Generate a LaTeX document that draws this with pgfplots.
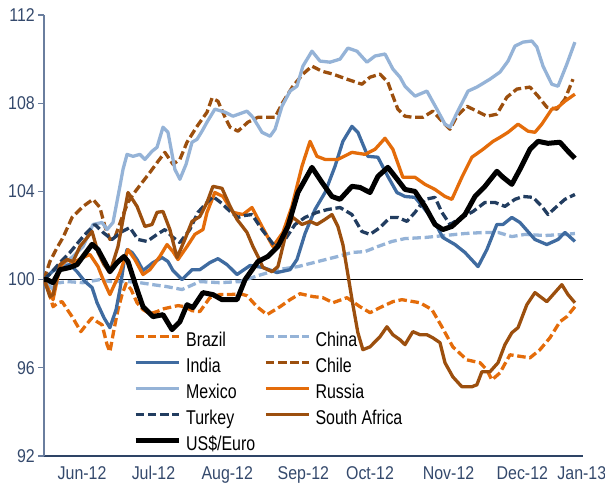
\documentclass[border=0pt]{standalone}
\usepackage{graphicx}
\usepackage{fontspec}
\setmainfont{Liberation Sans}
\usepackage{pgfplots}
\pgfplotsset{compat=1.18}

\definecolor{labcol}{HTML}{34496C}
\definecolor{yaxcol}{HTML}{6A7E9E}
\definecolor{xaxcol}{HTML}{2E4466}
\definecolor{cOrange}{HTML}{E46C0A}
\definecolor{cBlue}{HTML}{3F6BA0}
\definecolor{cLight}{HTML}{95B3D7}
\definecolor{cNavy}{HTML}{223D60}
\definecolor{cBrown}{HTML}{9C4F0E}

% slightly tall lettering for ticks and legend
\newcommand{\tall}[1]{\scalebox{1}[1.16]{#1}}
\newcommand{\tallL}[1]{\scalebox{1}[1.25]{#1}}

\begin{document}
\begin{tikzpicture}
\useasboundingbox (-44bp,-33bp) rectangle (561bp,456bp);
\begin{axis}[
  scale only axis, width=539bp, height=441bp,
  xmin=0, xmax=226.5, ymin=92, ymax=112,
  axis x line*=bottom, axis y line*=left,
  x axis line style={color=xaxcol, line width=1.1pt},
  y axis line style={color=yaxcol, line width=1.1pt},
  tick align=outside,
  ytick={92,96,100,104,108,112},
  yticklabels={\tall{92},\tall{96},\tall{100},\tall{104},\tall{108},\tall{112}},
  ytick style={color=yaxcol, line width=1.1pt},
  major tick length=6bp,
  xtick={16,46,77,109,137,170,201,226},
  xticklabels={\tall{Jun-12},\tall{Jul-12},\tall{Aug-12},\tall{Sep-12},\tall{Oct-12},\tall{Nov-12},\tall{Dec-12},\tall{Jan-13}},
  xtick style={draw=none},
  tick label style={font=\fontsize{16}{18}\selectfont, color=labcol, inner sep=0pt},
  yticklabel style={xshift=-3bp},
  xticklabel style={yshift=-4bp},
  every axis plot/.append style={line join=round},
  legend columns=2,
  legend cell align=left,
  legend image code/.code={\draw[#1] (0bp,5bp) -- (43bp,5bp);},
  legend style={
    draw=none, fill=none, inner sep=0pt,
    at={(0.165,0.279)}, anchor=north west,
    font=\fontsize{16}{18}\selectfont,
    nodes={inner sep=0pt, text height=13bp, text depth=4bp},
    row sep=9bp,
    /tikz/every odd column/.append style={column sep=5bp},
    /tikz/every even column/.append style={column sep=9bp},
  },
]

% reference level
\addplot[black, line width=1.3pt, forget plot] coordinates {(0,100) (226.5,100)};

% Brazil
\addplot[cOrange, line width=3.3bp, dash pattern=on 8.5bp off 3.7bp] coordinates {
(0,100) (1.7,99.55) (3.8,98.77) (5.9,98.95) (7.6,99.0) (10.1,98.59) (11.8,98.32)
(15.5,97.64) (18.1,98.0) (20.2,98.27) (22.3,98.09) (24.4,97.95) (26.5,97.05)
(27.7,96.73) (29.4,97.73) (31.1,98.64) (32.8,99.32) (34.5,99.82) (36.6,99.55)
(39.1,98.95) (41.6,98.64) (44.5,98.45) (47.5,98.55) (50.4,98.68) (56.3,98.82)
(59.2,98.77) (62.2,98.59) (65.5,98.55) (69.7,99.18) (73.9,99.32) (78.2,99.32)
(82.4,99.36) (85.3,99.27) (89.5,98.77) (93.7,98.41) (99.2,98.77) (103.4,99.09)
(107.6,99.36) (113.0,99.23) (117.2,99.18) (121.4,98.95) (127.3,99.18) (132.8,98.77)
(137.0,98.5) (141.2,98.73) (146.6,99.0) (150.4,99.09) (158.0,98.95) (163.0,98.64)
(167.2,97.86) (171.8,96.95) (177.7,96.36) (183.2,96.23) (186.1,95.91) (188.2,95.45)
(191.6,95.77) (195.8,96.59) (201.3,96.5) (204.2,96.45) (208.4,96.82) (212.6,97.36)
(216.8,98.09) (219.7,98.32) (223.1,98.77)};
\addlegendentry{\tallL{Brazil}}

% China
\addplot[cLight, line width=3.3bp, dash pattern=on 8.5bp off 3.7bp] coordinates {
(0,100) (2.5,99.86) (6.7,99.86) (9.7,99.91) (16.4,99.86) (23.5,100) (27.7,99.91)
(34.9,99.91) (40.3,99.86) (45.8,99.77) (51.7,99.68) (58.0,99.55) (62.6,99.77)
(65.5,99.91) (73.9,99.86) (82.4,99.91) (89.9,100.18) (98.3,100.45) (106.7,100.59)
(115.1,100.82) (123.5,101.05) (129.4,101.23) (134.9,101.27) (140.3,101.5)
(146.2,101.73) (151.7,101.86) (160.1,101.91) (168.5,102.0) (176.9,102.09)
(185.3,102.14) (190.8,102.14) (196.6,101.95) (202.1,102.05) (210.5,102.0)
(218.9,102.05) (223.1,102.09)};
\addlegendentry{\tallL{China}}

% India
\addplot[cBlue, line width=3.3bp] coordinates {
(0,100) (3.4,100.36) (6.7,100.59) (10.9,100.68) (13.9,100.36) (17.2,99.91)
(20.2,99.64) (22.3,98.95) (25.2,98.27) (27.7,97.82) (30.3,98.64) (31.9,99.55)
(33.6,100.77) (34.9,101.36) (37.0,101.23) (39.1,100.91) (41.6,100.41) (43.7,100.59)
(45.8,100.77) (49.6,101.0) (52.1,100.82) (54.2,100.41) (58.0,100.0) (62.2,100.45)
(65.5,100.45) (69.7,100.77) (73.1,100.95) (76.9,100.68) (81.1,100.23) (86.6,100.64)
(92.0,100.55) (97.9,100.32) (103.4,100.45) (106.3,100.91) (109.7,102.09)
(113.9,103.18) (118.1,103.95) (122.3,105.14) (125.6,106.27) (129.4,106.95)
(131.9,106.68) (136.1,105.59) (140.3,105.55) (144.5,104.68) (148.3,103.95)
(151.7,103.77) (155.9,103.73) (160.1,103.18) (164.3,102.59) (167.6,101.91)
(172.7,101.59) (176.9,101.23) (182.4,100.59) (186.1,101.36) (190.3,102.5)
(192.9,102.5) (196.6,102.82) (200.0,102.59) (206.3,101.82) (211.3,101.59)
(216.0,101.82) (218.9,102.14) (223.1,101.73)};
\addlegendentry{\tallL{India}}

% Chile
\addplot[cBrown, line width=3.3bp, dash pattern=on 8.5bp off 3.7bp] coordinates {
(0,100) (2.5,100.82) (5.5,101.45) (8.0,101.91) (11.8,102.82) (16.4,103.32)
(20.6,103.64) (23.5,103.27) (25.6,102.41) (27.7,101.82) (29.8,101.91) (32.8,102.82)
(35.3,103.5) (37.4,103.86) (40.3,104.27) (44.5,104.86) (47.9,105.36) (50.8,105.77)
(54.2,105.23) (57.1,105.45) (60.1,106.23) (64.3,106.95) (68.5,107.59) (70.6,108.23)
(73.1,108.09) (76.1,107.36) (78.2,106.91) (81.5,106.73) (85.7,107.14) (89.9,107.36)
(97.1,107.36) (100.4,108.05) (104.6,108.77) (108.8,109.32) (112.6,109.68)
(116.8,109.45) (121.4,109.32) (127.3,109.09) (133.6,108.86) (137.0,109.18)
(141.2,109.32) (144.5,108.95) (146.6,108.32) (148.7,107.73) (151.7,107.41)
(155.0,107.36) (159.2,107.36) (163.4,107.64) (167.6,107.14) (170.6,106.82)
(173.5,107.41) (177.7,107.86) (181.9,107.64) (186.1,107.41) (190.3,107.5)
(194.5,108.27) (198.7,108.64) (204.2,108.73) (207.6,108.32) (211.3,107.82)
(215.5,107.73) (218.9,108.18) (222.3,109.09)};
\addlegendentry{\tallL{Chile}}

% Mexico
\addplot[cLight, line width=3.3bp] coordinates {
(0,100) (3.8,99.55) (6.7,100.59) (12.2,101.05) (16.4,101.5) (20.6,102.5)
(24.4,102.59) (26.5,102.27) (29.0,102.59) (31.9,104.23) (33.2,105) (34.9,105.68)
(37.4,105.59) (40.3,105.68) (42.4,105.45) (45.4,105.82) (47.5,106.0) (50.0,106.91)
(52.1,106.68) (55.0,105.0) (57.1,104.55) (59.7,105.23) (62.2,106.23) (64.3,106.36)
(66.4,106.73) (68.5,107.14) (71.8,107.73) (76.1,107.59) (79.4,107.41) (85.3,107.64)
(87.8,107.36) (91.6,106.68) (95.0,106.5) (97.1,106.82) (100,107.86) (103.4,108.55)
(106.3,108.77) (108.8,109.68) (112.6,110.36) (116.0,109.91) (120.2,109.86)
(124.4,110) (127.7,110.5) (131.5,110.36) (135.7,109.86) (139.1,110.14)
(143.3,110.23) (146.6,109.55) (149.6,109.18) (151.7,108.77) (155.9,108.32)
(160.9,108.55) (165.1,107.73) (168.5,107.05) (170.6,106.91) (173.9,107.64)
(178.2,108.55) (181.9,108.73) (187.4,109.09) (191.6,109.41) (195.0,109.91)
(197.9,110.59) (201.3,110.77) (205.0,110.82) (207.1,110.55) (209.7,109.68)
(213.4,108.86) (216.0,108.77) (219.7,109.77) (223.1,110.77)};
\addlegendentry{\tallL{Mexico}}

% Russia
\addplot[cOrange, line width=3.3bp] coordinates {
(0,100) (3.8,99.09) (6.7,100.59) (9.7,100.91) (12.2,100.77) (16.4,101.0)
(19.3,101.14) (22.7,100.59) (25.2,99.91) (27.7,99.32) (31.9,100.32) (35.3,101.36)
(38.2,100.91) (41.6,100.23) (44.5,100.45) (48.7,101.05) (51.7,101.59) (54.2,101.27)
(56.3,100.91) (60.1,101.5) (63.4,102.05) (66.8,102.27) (68.5,103.05) (71.8,103.95)
(75.2,103.77) (79.4,103.05) (83.6,102.95) (87.4,103.27) (91.6,102.41) (96.2,101.5)
(100.4,102.14) (104.2,103.32) (108.4,105.14) (111.8,106.27) (114.7,105.59)
(118.1,105.45) (123.5,105.45) (129.4,105.77) (134.9,105.68) (139.1,105.91)
(143.3,106.41) (146.6,105.91) (150.8,104.64) (155.9,104.64) (160.1,104.32)
(164.3,104.09) (168.5,103.77) (171.4,103.64) (175.6,104.64) (179.8,105.55)
(184.5,105.91) (188.7,106.27) (191.6,106.45) (195.0,106.68) (199.2,107.05)
(203.4,106.73) (206.3,106.68) (209.2,107.05) (213.4,107.73) (216.0,107.82)
(218.9,108.09) (223.1,108.41)};
\addlegendentry{\tallL{Russia}}

% Turkey
\addplot[cNavy, line width=3.3bp, dash pattern=on 8.5bp off 3.7bp] coordinates {
(0,100) (3.4,100.36) (6.7,100.77) (10.9,101.23) (16.4,101.95) (21.4,102.5)
(24.8,102.14) (28.6,101.82) (32.8,102.18) (36.1,102.36) (39.5,101.82) (43.3,101.73)
(47.5,102.05) (50.8,102.27) (53.8,101.95) (57.1,101.68) (61.3,102.27) (64.7,103.05)
(68.5,103.5) (71.0,103.77) (74.8,103.45) (78.2,103.09) (81.5,102.82) (84.5,102.91)
(87.4,102.95) (91.6,102.27) (97.1,101.5) (101.3,101.82) (105.5,102.5) (109.7,102.82)
(114.7,103.05) (119.3,103.18) (124.4,103.27) (129.4,102.95) (133.6,102.18)
(137.0,102.05) (141.2,102.36) (145.4,102.82) (148.7,102.82) (152.5,102.64)
(155.9,103.05) (160.1,103.64) (164.3,103.73) (167.2,103.05) (170.6,102.5)
(175.6,102.82) (180.3,103.09) (185.3,103.5) (189.5,103.5) (193.7,103.32)
(197.9,103.64) (201.3,103.77) (205.5,103.73) (209.2,103.32) (211.8,102.95)
(215.5,103.32) (218.9,103.64) (223.1,103.86)};
\addlegendentry{\tallL{Turkey}}

% South Africa
\addplot[cBrown, line width=3.3bp] coordinates {
(0,100) (2.5,99.23) (3.8,99.32) (6.7,100.68) (9.7,100.91) (12.2,100.82) (15.1,101.5)
(20.2,102.18) (22.7,101.23) (25.2,100.68) (27.7,100.32) (31.1,101.5) (33.2,102.73)
(35.3,103.95) (39.1,103.32) (42.4,102.41) (45.4,102.5) (47.5,103.05) (50.0,103.09)
(52.9,102.27) (55.9,101.0) (59.2,101.82) (62.2,102.64) (65.5,102.86) (68.5,103.5)
(71.0,104.23) (74.8,104.14) (78.2,103.32) (81.1,102.73) (85.3,102.14) (87.8,101.5)
(89.9,101.05) (92.0,100.55) (95.8,100.36) (98.3,100.59) (102.1,102.27) (104.6,102.82)
(108.4,102.5) (111.8,102.64) (114.7,102.5) (118.1,102.73) (121.0,102.95)
(123.5,102.41) (125.6,101.59) (127.7,100.23) (129.8,98.86) (131.9,97.59)
(134.0,96.82) (137.0,96.95) (141.2,97.41) (144.1,97.86) (146.6,97.5) (149.6,97.27)
(151.7,97.05) (155.0,97.64) (158.0,97.5) (160.9,97.5) (163.4,97.36) (166.4,97.14)
(168.5,96.23) (171.8,95.59) (175.6,95.14) (179.8,95.14) (181.9,95.23) (184.0,95.82)
(187.4,95.82) (190.8,96.23) (193.7,97.05) (196.6,97.59) (199.2,97.82) (202.9,98.86)
(206.3,99.41) (211.3,99.0) (217.6,99.77) (220.2,99.32) (223.1,98.95)};
\addlegendentry{\tallL{South Africa}}

% US$/Euro
\addplot[black, line width=5bp] coordinates {
(0,100) (1.3,100) (3.8,99.86) (6.7,100.45) (10.9,100.55) (13.9,100.68) (16.4,101.05)
(20.2,101.6) (22.7,101.36) (27.7,100.36) (30.7,100.77) (33.6,101.05) (35.3,100.82)
(39.1,99.55) (41.6,98.77) (45.8,98.32) (50.0,98.41) (53.8,97.73) (57.1,98.09)
(60.1,98.86) (62.6,98.73) (66.8,99.41) (71.0,99.32) (74.8,99.09) (78.2,99.09)
(81.1,99.09) (84.5,100) (86.6,100.32) (89.9,100.82) (94.1,101.05) (98.3,101.5)
(102.5,102.41) (106.7,103.95) (112.6,105.09) (116.8,104.41) (121.0,103.77)
(124.4,103.64) (129.4,104.23) (132.8,104.18) (137.0,103.95) (140.3,104.68)
(144.5,105.09) (147.5,104.68) (151.7,104.09) (155.9,104.0) (160.1,103.32)
(164.3,102.5) (167.6,102.27) (171.4,102.41) (176.9,102.95) (181.1,103.77)
(185.3,104.23) (190.3,104.91) (192.9,104.64) (196.6,104.32) (200,105) (204.2,105.91)
(207.6,106.27) (211.8,106.18) (216.8,106.23) (220.2,105.82) (223.1,105.5)};
\addlegendentry{\tallL{US\$/Euro}}

\end{axis}
\end{tikzpicture}
\end{document}
